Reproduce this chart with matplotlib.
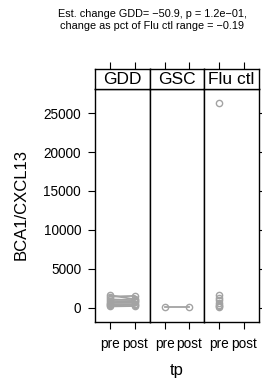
import matplotlib
matplotlib.use("Agg")
import matplotlib.pyplot as plt
import numpy as np

plt.rcParams["font.family"] = ["Liberation Sans", "DejaVu Sans"]

panels = ["GDD", "GSC", "Flu ctl"]
tp_levels = ["pre", "post"]
gdd_pre = [1650, 1450, 1100, 900, 700, 500, 350, 200]
gdd_post = [1100, 1550, 1000, 850, 750, 500, 400, 250]
gsc_pre = [150]
gsc_post = [150]
flu_pre = [26300, 1600, 1300, 1000, 700, 400, 200, 100]
yticks = [0, 5000, 10000, 15000, 20000, 25000]
title = "Est. change GDD= \u221250.9, p = 1.2e\u221201,\nchange as pct of Flu ctl range = \u22120.19"

W, H = 262, 386
fig = plt.figure(figsize=(W / 100, H / 100), dpi=100)

left, right = 95, 259
top_panel, bottom_panel, top_strip = 89, 322, 69
pw = (right - left) / 3
gray = "#a3a3a3"

data = [(gdd_pre, gdd_post), (gsc_pre, gsc_post), (flu_pre, None)]
ylim = (-1800, 28080)
xlim = (0.4, 2.6)

for i, name in enumerate(panels):
    x0 = left + i * pw
    ax = fig.add_axes([x0 / W, 1 - bottom_panel / H, pw / W, (bottom_panel - top_panel) / H])
    pre, post = data[i]
    if post is not None:
        for a, b in zip(pre, post):
            ax.plot([1, 2], [a, b], color=gray, lw=1.3, marker="o", mfc="none",
                    mec=gray, ms=4.5, mew=1.0)
    else:
        ax.plot(np.ones(len(pre)), pre, ls="none", marker="o", mfc="none",
                mec=gray, ms=4.5, mew=1.0)
    ax.set_xlim(*xlim)
    ax.set_ylim(*ylim)
    ax.set_xticks([1, 2])
    ax.set_xticklabels(tp_levels, fontsize=9.8)
    ax.set_yticks(yticks)
    ax.tick_params(axis="both", direction="out", length=5, width=0.8, pad=3)
    ax.tick_params(axis="x", pad=6)
    if i == 0:
        ax.set_yticklabels([str(v) for v in yticks], fontsize=9.8)
        ax.tick_params(axis="y", pad=5)
    elif i == 2:
        ax.yaxis.tick_right()
        ax.set_yticklabels([])
    else:
        ax.tick_params(axis="y", left=False, labelleft=False)
    for s in ax.spines.values():
        s.set_linewidth(1.0)

    sax = fig.add_axes([x0 / W, 1 - top_panel / H, pw / W, (top_panel - top_strip) / H])
    sax.set_xlim(*xlim)
    sax.set_ylim(0, 1)
    sax.set_xticks([1, 2])
    sax.xaxis.tick_top()
    sax.set_xticklabels([])
    sax.set_yticks([])
    sax.tick_params(axis="x", direction="out", length=5, width=0.8)
    sax.text(1.5, 0.45, name, ha="center", va="center", fontsize=12.5)
    for s in sax.spines.values():
        s.set_linewidth(1.0)

fig.text(21 / W, 1 - 205 / H, "BCA1/CXCL13", rotation=90, ha="center", va="center", fontsize=12)
fig.text(177 / W, 1 - 370 / H, "tp", ha="center", va="center", fontsize=12)
fig.text(152 / W, 1 - 20 / H, title, ha="center", va="center", fontsize=7.8, linespacing=1.25)

fig.savefig("out.png", dpi=100)
